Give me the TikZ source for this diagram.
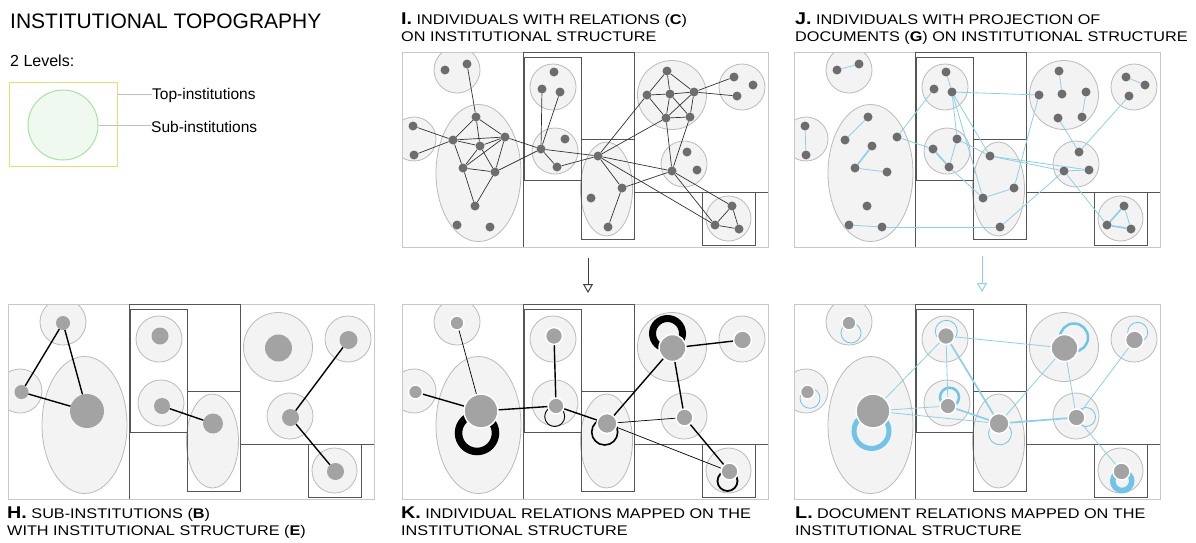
\documentclass[tikz,border=0pt]{standalone}
\usepackage{fontspec}
\setmainfont{Liberation Sans}
\newfontfamily\capfont[FakeStretch=1.16]{Liberation Sans}
\usetikzlibrary{arrows.meta}

\definecolor{instgray}{HTML}{555555}
\definecolor{framegray}{HTML}{C8C8C8}
\definecolor{subfill}{HTML}{F3F3F3}
\definecolor{subdraw}{HTML}{BBBBBB}
\definecolor{indivgray}{HTML}{6D6D6D}
\definecolor{centgray}{HTML}{A3A3A3}
\definecolor{docblue}{HTML}{8DD0EA}
\definecolor{loopblue}{HTML}{72C4E6}
\definecolor{legyellow}{HTML}{E9DD72}
\definecolor{leggreen}{HTML}{A6E5A0}
\definecolor{legfill}{HTML}{F0F9F0}

\tikzset{
  indiv/.style={circle, fill=indivgray, inner sep=0, minimum size=9},
  centroid/.style={circle, fill=centgray, inner sep=0},
  ringed/.style={draw=white, line width=1.5},
  subinst/.style={fill=subfill, draw=subdraw, line width=0.8},
  topframe/.style={draw=framegray, line width=0.9},
  instline/.style={draw=instgray, line width=0.9},
  relind/.style={draw=black!80, line width=0.7},
  reldoc/.style={draw=docblue, line width=0.8},
  reldocthick/.style={draw=docblue, line width=1.7},
  relsub/.style={draw=black, line width=1.4},
  relsubthin/.style={draw=black, line width=0.7},
  selfind/.style={draw=black},
  selfdoc/.style={draw=loopblue},
  ptitle/.style={anchor=base west, inner sep=0, font=\capfont\fontsize{14}{16}\selectfont},
  legtext/.style={anchor=base west, inner sep=0, font=\fontsize{15.5}{18}\selectfont},
  downarrow/.style={-{Triangle[open, width=10, length=9]}, line width=1},
}

% letter of a panel title
\newcommand{\plab}[1]{{\fontsize{17}{17}\selectfont\bfseries #1}}

% institutional structure of one panel
\newcommand{\drawtopo}{%
  \fill[white] (0,0) rectangle (366,195);
  \begin{scope}
    \clip (0,0) rectangle (366,195);
    \foreach \cx/\cy/\cr in {55/18/23, 12/87/22, 151/35/23, 153/99/23,
        270/43/34.5, 340/35/23, 282/112/23, 326.5/166.5/22.5}
      \draw[subinst] (\cx,\cy) circle (\cr);
    \draw[subinst] (76.5,121) ellipse (42.5 and 68.5);
    \draw[subinst] (204.5,137) ellipse (26 and 47);
  \end{scope}
  \draw[topframe] (0,0) rectangle (366,195);
  \draw[instline] (121,0) -- (121,195);
  \draw[instline] (121,0) -- (232,0) -- (232,187);
  \draw[instline] (232,140) -- (366,140);
  \draw[instline] (122,5) rectangle (179,128);
  \draw[instline] (179,87) rectangle (232,187);
  \draw[instline] (300,140) rectangle (353,193);
}

% individuals
\newcommand{\placeindividuals}{%
  \foreach \n/\px/\py in {1/43/18, 2/65/12, 3/74/65, 4/11/74, 5/12/103,
      6/51/88, 7/78/94, 8/103/85, 9/61/116, 10/93/120, 11/73/154,
      12/55/173, 13/88/175, 14/152/20, 15/140/37, 16/158/40, 17/163/87,
      18/139/97, 19/155/115, 20/196/104, 21/220/136, 22/189/146,
      23/206/175, 24/265/19, 25/245/43, 26/268/42, 27/292/40, 28/264/66,
      29/288/65, 30/332/25, 31/351/33, 32/335/44, 33/285/100, 34/295/118,
      35/270/119, 36/330/154, 37/313/173, 38/337/177}
    \node[indiv] (p\n) at (\px,\py) {};
}

% sub-institutions as single dots
\newcommand{\placecentroids}[1]{%
  \foreach \n/\px/\py/\sz in {1/55/19/14, 2/13.5/88/14, 3/79/107/34,
      4/152/32/17, 5/154/102/16, 6/205/119.5/20, 7/270.5/44/27,
      8/340.5/36/18, 9/282.5/113.5/17, 10/327.5/167.5/17}
    \node[centroid, minimum size=\sz, #1] (s\n) at (\px,\py) {};
}

\begin{document}
\begin{tikzpicture}[x=1pt, y=-1pt]
\useasboundingbox (0,0) rectangle (1196,542);
\fill[white] (0,0) rectangle (1196,542);

% legend
\node[anchor=base west, inner sep=0, font=\fontsize{21}{25}\selectfont] (maintitle) at (10,28) {INSTITUTIONAL TOPOGRAPHY};
\node[anchor=base west, inner sep=0, font=\fontsize{16}{19}\selectfont] (levels) at (10,66.5) {2 Levels:};
\node[draw=legyellow, line width=1, minimum width=108, minimum height=84, inner sep=0] (legbox) at (63,124) {};
\node[circle, draw=leggreen, fill=legfill, line width=1, minimum size=70, inner sep=0] (legcirc) at (63,125) {};
\node[legtext] (toplab) at (152,99.5) {Top-institutions};
\node[legtext] (sublab) at (151,132) {Sub-institutions};
\draw[black!25, line width=1] (legbox.east |- 0,94) -- (toplab.west |- 0,94);
\draw[black!25, line width=1] (legcirc.east) -- (sublab.west |- legcirc.east);

% I: individuals with relations
\begin{scope}[shift={(402,52)}, name prefix=I-]
  \drawtopo
  \placeindividuals
  \foreach \a/\b in {2/3, 3/6, 3/7, 3/8, 4/6, 5/6, 6/7, 6/8, 6/9, 7/8, 7/9,
      7/10, 8/9, 8/10, 9/10, 9/11, 10/11, 8/18, 10/18, 15/18, 16/18, 18/19,
      18/20, 19/20, 20/21, 21/23, 20/25, 20/28, 20/35, 20/37, 21/35, 28/35,
      29/35, 35/36, 35/37, 36/37, 36/38, 37/38, 24/25, 24/26, 24/27, 25/26,
      26/27, 25/28, 26/28, 26/29, 27/28, 27/29, 28/29, 27/30, 27/32}
    \draw[relind] (p\a) -- (p\b);
\end{scope}

% J: individuals with documents
\begin{scope}[shift={(794,52)}, name prefix=J-]
  \drawtopo
  \placeindividuals
  \foreach \a/\b in {1/2, 4/5, 3/6, 9/10, 12/13, 13/23, 8/15, 8/18, 14/16,
      16/25, 16/17, 16/22, 16/20, 17/19, 17/20, 19/22, 21/22, 21/25, 20/35,
      20/34, 34/35, 28/33, 32/33, 35/37, 23/35, 24/26, 27/29, 30/31, 36/38}
    \draw[reldoc] (p\a) -- (p\b);
  \foreach \a/\b in {7/9, 18/19, 36/37, 37/38}
    \draw[reldocthick] (p\a) -- (p\b);
\end{scope}

% H: sub-institutions
\begin{scope}[shift={(8,304)}, name prefix=H-]
  \drawtopo
  \placecentroids{}
  \foreach \a/\b in {1/2, 1/3, 2/3, 5/6, 8/9, 9/10}
    \draw[relsub] (s\a) -- (s\b);
\end{scope}

% K: individual relations mapped
\begin{scope}[shift={(402,304)}, name prefix=K-]
  \drawtopo
  \draw[selfind, line width=7.5] (75,129) circle (18.5);
  \draw[selfind, line width=7] (265.5,29.5) circle (15);
  \draw[selfind, line width=0.9] (152.7,112.5) circle (10);
  \draw[selfind, line width=1.6] (202.7,128) circle (13);
  \draw[selfind, line width=1.8] (325.5,177) circle (10);
  \placecentroids{ringed}
  \foreach \a/\b in {2/3, 3/5, 4/5, 5/6, 6/7, 7/8, 7/9, 9/10}
    \draw[relsub] (s\a) -- (s\b);
  \foreach \a/\b in {1/3, 6/9, 6/10}
    \draw[relsubthin] (s\a) -- (s\b);
\end{scope}

% L: document relations mapped
\begin{scope}[shift={(794,304)}, name prefix=L-]
  \drawtopo
  \draw[selfdoc, line width=0.8] (57,29) circle (10);
  \draw[selfdoc, line width=0.8] (16,94.3) circle (10);
  \draw[selfdoc, line width=5] (77.5,127) circle (17.5);
  \draw[selfdoc, line width=0.8] (152.3,27.3) circle (11);
  \draw[selfdoc, line width=2.5] (155.5,93.2) circle (9.5);
  \draw[selfdoc, line width=0.8] (206,129.3) circle (11.5);
  \draw[selfdoc, line width=2.5] (280,33.5) circle (14);
  \draw[selfdoc, line width=0.8] (343.7,28.3) circle (10);
  \draw[selfdoc, line width=0.8] (292,113) circle (9.5);
  \draw[selfdoc, line width=5.5] (328.2,177) circle (9.5);
  \placecentroids{ringed}
  \foreach \a/\b in {3/4, 3/5, 3/6, 4/5, 4/7, 6/7, 7/9, 8/9, 9/10}
    \draw[reldoc] (s\a) -- (s\b);
  \foreach \a/\b in {4/6, 5/6, 6/9}
    \draw[reldocthick] (s\a) -- (s\b);
\end{scope}

% arrows between rows
\coordinate (Ifoot) at (588,258);
\coordinate (Khead) at (588,293);
\coordinate (Jfoot) at (982,256);
\coordinate (Lhead) at (982,292);
\draw[downarrow, draw=black!75] (Ifoot) -- (Khead);
\draw[downarrow, draw=docblue] (Jfoot) -- (Lhead);

% panel titles
\node[ptitle] (titleI) at (401,24) {\plab{I.} INDIVIDUALS WITH RELATIONS (\textbf{C})};
\node[ptitle] (titleIb) at (401,41.5) {ON INSTITUTIONAL STRUCTURE};
\node[ptitle] (titleJ) at (795,24) {\plab{J.} INDIVIDUALS WITH PROJECTION OF};
\node[ptitle] (titleJb) at (795,41.5) {DOCUMENTS (\textbf{G}) ON INSTITUTIONAL STRUCTURE};
\node[ptitle] (titleH) at (7,518) {\plab{H.} SUB-INSTITUTIONS (\textbf{B})};
\node[ptitle] (titleHb) at (7,535.5) {WITH INSTITUTIONAL STRUCTURE (\textbf{E})};
\node[ptitle] (titleK) at (401,518) {\plab{K.} INDIVIDUAL RELATIONS MAPPED ON THE};
\node[ptitle] (titleKb) at (401,535.5) {INSTITUTIONAL STRUCTURE};
\node[ptitle] (titleL) at (795,518) {\plab{L.} DOCUMENT RELATIONS MAPPED ON THE};
\node[ptitle] (titleLb) at (795,535.5) {INSTITUTIONAL STRUCTURE};
\end{tikzpicture}
\end{document}
